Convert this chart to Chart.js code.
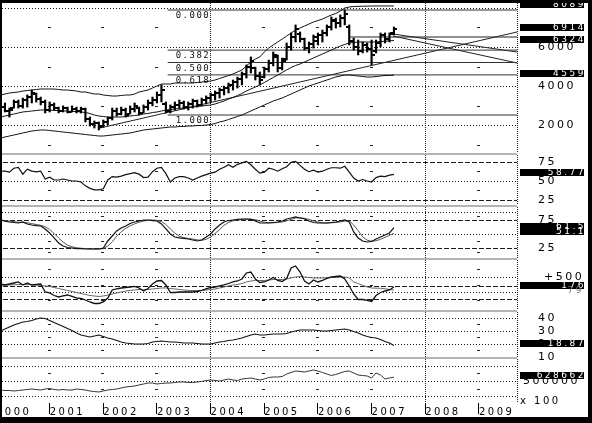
<!DOCTYPE html>
<html>
<head>
<meta charset="utf-8">
<script src="https://cdn.jsdelivr.net/npm/chart.js@4.4.1/dist/chart.umd.min.js"></script>
<style>
  html, body { margin: 0; padding: 0; background: #000; overflow: hidden; }
  body { width: 592px; height: 423px; position: relative; }
  #paper { position: absolute; left: 2px; top: 3px; width: 586px; height: 414px; background: #fff; }
  canvas { position: absolute; left: -4px; top: -30px; }
  .frame { position: absolute; background: #000; }
</style>
</head>
<body>
<div id="paper"></div>
<canvas id="p1" width="596" height="453"></canvas>
<canvas id="p2" width="596" height="453"></canvas>
<canvas id="p3" width="596" height="453"></canvas>
<canvas id="p4" width="596" height="453"></canvas>
<canvas id="p5" width="596" height="453"></canvas>
<canvas id="p6" width="596" height="453"></canvas>
<div class="frame" style="left:0;top:0;width:592px;height:3px"></div>
<div class="frame" style="left:0;top:0;width:2px;height:423px"></div>
<div class="frame" style="left:588px;top:0;width:4px;height:423px"></div>
<div class="frame" style="left:0;top:417px;width:592px;height:6px"></div>
<script>
// monthly bars, Jan 2000 .. Jun 2007
const monthX = Array.from({ length: 90 }, (_, i) => 2000 + i / 12);
const yearTicks = [2000, 2001, 2002, 2003, 2004, 2005, 2006, 2007, 2008, 2009];
const vLineYears = [2004, 2008];
const gridDotYears = [2001, 2002, 2003, 2005, 2006, 2007, 2009];
const xMin = 2000;
const xMax = 2009.71;

// price panel
const priceOpen = [2800, 3100, 2950, 2750, 2900, 3200, 3000, 3300, 3450, 3600,
  3350, 3200, 2800, 3050, 2900, 2750, 2900, 2700, 2850, 2750,
  2850, 2300, 2050, 2100, 1950, 2150, 2350, 2750, 2600, 2800,
  2600, 2850, 2900, 2650, 2950, 3150, 3300, 3550, 3100, 2750,
  2950, 3050, 3150, 2950, 3100, 3250, 3050, 3300, 3400, 3550,
  3650, 3800, 3900, 4050, 4200, 4350, 4600, 4950, 4900, 4500,
  4450, 4850, 5200, 5500, 4900, 5400, 6000, 6500, 6650, 6400,
  5950, 6150, 6300, 6600, 6700, 7000, 7300, 7200, 7500, 7000,
  6300, 6000, 5800, 6100, 5900, 5800, 6200, 6600, 6400, 6700];
const priceHigh = [3290, 3290, 3140, 2880, 3290, 3290, 3390, 3550, 3800, 3650,
  3440, 3290, 3190, 3140, 2930, 2990, 2930, 2990, 2930, 2930,
  2880, 2420, 2220, 2170, 2270, 2420, 2880, 2880, 2930, 2880,
  2990, 3140, 2930, 3040, 3290, 3440, 3700, 4060, 3190, 3040,
  3190, 3290, 3240, 3190, 3340, 3290, 3390, 3500, 3650, 3750,
  3900, 4000, 4160, 4310, 4460, 4720, 5080, 5490, 4970, 4720,
  4970, 5330, 5740, 5590, 5430, 6200, 6710, 7120, 6760, 6450,
  6250, 6610, 6710, 6860, 7120, 7530, 7470, 7630, 7883, 7120,
  6450, 6350, 6250, 6200, 6350, 6350, 6710, 6710, 6710, 7015];
const priceLow = [2680, 2680, 2680, 2420, 2880, 2880, 2880, 2930, 3140, 3190,
  3040, 2630, 2680, 2780, 2630, 2680, 2630, 2680, 2630, 2630,
  2170, 1960, 1860, 1760, 1910, 2020, 2270, 2470, 2530, 2420,
  2580, 2680, 2530, 2630, 2780, 2990, 3140, 3190, 2630, 2630,
  2780, 2880, 2830, 2780, 2880, 2930, 2990, 3090, 3190, 3290,
  3390, 3550, 3650, 3800, 3900, 4060, 4410, 4670, 4310, 4060,
  4410, 4720, 5030, 4720, 4820, 5330, 5840, 6250, 6250, 5840,
  5690, 5940, 6100, 6250, 6560, 6860, 6960, 7020, 7120, 6100,
  5840, 5590, 5690, 5740, 5080, 5690, 6000, 6200, 6250, 6610];
const priceClose = [3100, 2950, 2750, 2800, 3200, 3000, 3300, 3450, 3650, 3350,
  3200, 2800, 3050, 2900, 2750, 2900, 2700, 2850, 2750, 2850,
  2300, 2050, 2100, 1900, 2150, 2350, 2750, 2600, 2800, 2550,
  2850, 3000, 2650, 2950, 3150, 3300, 3550, 3800, 2750, 2950,
  3050, 3150, 2950, 3100, 3250, 3050, 3300, 3400, 3550, 3650,
  3800, 3900, 4050, 4200, 4350, 4600, 4950, 5300, 4500, 4300,
  4850, 5200, 5600, 4900, 5300, 6000, 6500, 6900, 6400, 5950,
  6150, 6500, 6600, 6700, 7000, 7350, 7200, 7500, 7700, 6300,
  6000, 5800, 6100, 5900, 5600, 6200, 6600, 6400, 6650, 6914];
const bandUpper = [3520, 3546, 3597, 3648, 3673, 3699, 3750, 3775, 3801, 3826,
  3852, 3852, 3852, 3852, 3826, 3801, 3801, 3775, 3750, 3699,
  3699, 3648, 3597, 3597, 3546, 3520, 3495, 3495, 3520, 3546,
  3546, 3597, 3699, 3750, 3801, 3903, 4005, 4107, 4107, 4107,
  4158, 4158, 4158, 4158, 4158, 4184, 4209, 4235, 4260, 4311,
  4388, 4464, 4541, 4617, 4719, 4821, 5026, 5230, 5383, 5485,
  5740, 5944, 6097, 6250, 6403, 6556, 6709, 6862, 6964, 7066,
  7168, 7270, 7347, 7423, 7525, 7627, 7704, 7832, 7985, 8036,
  8060, 8070, 8075, 8080, 8085, 8089, 8089, 8089, 8089, 8089];
const bandMiddle = [2398, 2423, 2474, 2525, 2576, 2628, 2679, 2704, 2730, 2755,
  2781, 2781, 2781, 2755, 2755, 2730, 2730, 2704, 2704, 2679,
  2653, 2602, 2525, 2474, 2449, 2423, 2423, 2423, 2423, 2449,
  2474, 2500, 2525, 2576, 2602, 2653, 2679, 2730, 2781, 2806,
  2832, 2857, 2883, 2908, 2934, 2959, 2985, 3010, 3036, 3087,
  3163, 3240, 3342, 3418, 3520, 3622, 3750, 3852, 3954, 4056,
  4184, 4311, 4439, 4566, 4694, 4821, 4949, 5051, 5128, 5230,
  5332, 5434, 5536, 5638, 5740, 5842, 5944, 6046, 6123, 6199,
  6224, 6250, 6250, 6250, 6250, 6250, 6270, 6290, 6310, 6324];
const bandLower = [1327, 1352, 1403, 1454, 1505, 1556, 1607, 1658, 1709, 1735,
  1760, 1760, 1735, 1709, 1684, 1658, 1633, 1607, 1582, 1556,
  1531, 1505, 1480, 1454, 1454, 1480, 1505, 1531, 1556, 1582,
  1607, 1658, 1709, 1760, 1786, 1811, 1837, 1862, 1888, 1913,
  1913, 1939, 1939, 1964, 1964, 1990, 1990, 2015, 2041, 2092,
  2168, 2219, 2296, 2372, 2449, 2525, 2628, 2730, 2832, 2934,
  3036, 3138, 3240, 3316, 3393, 3495, 3597, 3699, 3801, 3903,
  4005, 4082, 4158, 4235, 4311, 4388, 4464, 4515, 4566, 4566,
  4541, 4515, 4490, 4464, 4464, 4490, 4515, 4541, 4540, 4559];
const fibHigh = 7883;
const fibLow = 2525;
const fibStart = 2003.2;
const fibRatios = [0, 0.382, 0.5, 0.618, 1];
const trendLines = [
  [[2001.94, 1862], [2009.71, 6760]],
  [[2007.4, 6658], [2009.71, 5740]],
  [[2007.4, 6556], [2009.71, 5179]],
  [[2006.6, 6505], [2009.71, 6505]]
];
const priceTicks = [2000, 4000, 6000];
const priceLast = [8089, 6914, 6324, 4559];

// oscillator panels
const rsi = [62.9, 62.9, 62.9, 61.6, 66.8, 68, 59, 65.5, 63, 62,
  63, 52.6, 55, 51.3, 51.3, 52.6, 51.3, 50, 50, 48.7,
  43.6, 40.3, 38.4, 38.4, 39.7, 51.3, 55.8, 55, 56.4, 58.4,
  59.7, 61, 59, 54.5, 55, 62.2, 66.8, 68, 59.7, 48.7,
  53.9, 55.8, 55.8, 53.9, 51.3, 53.9, 56.4, 58.4, 60.3, 61.6,
  65.5, 68, 71.3, 68, 71.9, 73.8, 75.8, 71.3, 65.5, 60.3,
  61.6, 66.8, 65.5, 62.9, 66.1, 68.7, 74.5, 75.8, 70.6, 65.5,
  62.2, 64.2, 61.6, 62.9, 65.5, 67.4, 67.4, 66.8, 69.3, 61.6,
  53.9, 50, 51.9, 50, 48.7, 54.5, 56.4, 55.8, 57.7, 58.77];
const stochK = [78.6, 75, 73, 71.4, 70.5, 69.6, 71.4, 67.9, 66, 65,
  64.3, 59, 51.8, 42.9, 33.9, 28.6, 25.9, 25, 24, 24,
  23.2, 23.2, 23.2, 23.2, 25, 37.5, 46.4, 55.4, 60.7, 64.3,
  68.8, 71.4, 73.2, 75, 75, 74, 73.2, 67.9, 59, 50,
  44.6, 42.9, 42, 41, 39.3, 37.5, 39.3, 44.6, 50, 59,
  66, 71.4, 74, 75, 76, 76.8, 76.8, 76, 73.2, 69.6,
  69.6, 69.6, 70.5, 71.4, 73.2, 76.8, 78.6, 80.4, 78.6, 76.8,
  73.2, 70.5, 69.6, 69.6, 69.6, 70.5, 71.4, 73.2, 75, 71.4,
  53.6, 42.9, 37.5, 35.7, 36.6, 41, 44.6, 48.2, 51.8, 61.5];
const stochD = [76, 75, 74, 73, 72, 71, 70.5, 70, 68.5, 67,
  65.5, 63, 58, 51, 43, 35.5, 30, 27, 25.5, 24.5,
  24, 23.5, 23.2, 23.2, 23.8, 28.5, 36, 46, 54, 60,
  64.5, 68, 71, 73, 74.5, 75, 74.5, 72, 67, 59,
  51.5, 46, 43.5, 42, 41, 39.5, 38.7, 40.5, 44.5, 51,
  58, 65.5, 70.5, 73.5, 75, 76, 76.5, 76.5, 75.5, 73,
  71, 70, 70, 70.5, 71.5, 73.5, 76, 78.5, 79, 78,
  76, 73.5, 71.5, 70, 69.5, 70, 70.5, 71.5, 73, 73.5,
  66, 56, 45, 39, 37, 38, 40.5, 44, 47.5, 51.1];
const macd = [274, 274, 242, 274, 306, 339, 242, 306, 242, 258,
  274, 16, -16, -97, -145, -113, -81, -129, -177, -194,
  -242, -306, -355, -355, -306, -177, 81, 113, 145, 161,
  177, 194, 145, 48, 129, 274, 371, 387, 242, 0,
  0, 16, 16, 16, 16, 32, 65, 113, 161, 177,
  210, 242, 290, 339, 371, 436, 629, 661, 436, 323,
  339, 403, 484, 387, 355, 452, 790, 855, 661, 371,
  274, 403, 339, 387, 452, 500, 516, 532, 436, 210,
  -48, -226, -226, -258, -290, -97, 0, 48, 81, 176];
const macdSignal = [242, 242, 242, 242, 250, 258, 258, 258, 250, 242,
  226, 210, 194, 161, 129, 97, 65, 32, 0, -32,
  -65, -97, -113, -129, -113, -81, -48, -16, 16, 48,
  65, 81, 97, 97, 97, 113, 129, 145, 145, 129,
  113, 97, 81, 65, 65, 65, 65, 81, 97, 113,
  145, 177, 210, 242, 258, 290, 339, 371, 387, 387,
  387, 403, 419, 419, 419, 436, 468, 500, 516, 500,
  484, 468, 468, 468, 468, 484, 484, 500, 500, 468,
  339, 290, 230, 180, 145, 140, 135, 120, 100, 79];
const adx = [29.2, 30, 31.5, 33.1, 34.6, 35.8, 36.9, 37.3, 38.1, 39.2,
  40, 39.6, 38.1, 36.5, 35, 33.5, 31.9, 30.4, 28.5, 26.9,
  26.2, 25.4, 26.2, 26.9, 25.8, 24.6, 23.8, 22.7, 21.5, 20.8,
  20.4, 20, 20, 20, 20.4, 21.5, 21.9, 22.3, 21.9, 21.5,
  21.5, 21.2, 20.8, 20.8, 20.8, 20.4, 20, 20, 20, 20.8,
  21.5, 21.9, 22.7, 23.1, 23.8, 24.6, 25.8, 26.9, 27.7, 26.9,
  26.9, 27.3, 27.7, 27.7, 27.7, 28.1, 29.2, 30, 30.8, 30.8,
  30.8, 30.8, 30.4, 30, 30, 30.4, 30.8, 31.2, 31.5, 30.8,
  29.6, 28.5, 26.9, 25.8, 25, 24.6, 23.5, 21.9, 20.8, 18.87];
const obv = [200000, 200000, 183000, 183000, 167000, 183000, 200000, 217000, 233000, 217000,
  200000, 233000, 250000, 217000, 200000, 217000, 200000, 200000, 233000, 217000,
  200000, 167000, 150000, 133000, 167000, 200000, 217000, 233000, 267000, 300000,
  317000, 333000, 367000, 400000, 433000, 433000, 400000, 417000, 433000, 433000,
  450000, 467000, 467000, 450000, 450000, 467000, 483000, 517000, 533000, 517000,
  500000, 533000, 567000, 533000, 517000, 567000, 583000, 600000, 567000, 533000,
  567000, 617000, 633000, 633000, 650000, 733000, 783000, 833000, 817000, 800000,
  833000, 867000, 833000, 783000, 733000, 683000, 717000, 767000, 817000, 833000,
  767000, 700000, 683000, 667000, 600000, 767000, 700000, 567000, 600000, 628662];

// guide levels, grid dots and last-value boxes for each panel
const extras = {
  p1: { levels: [[2000, 'dot'], [4000, 'dot'], [6000, 'dot'], [8000, 'dot']], dots: [1000, 3000, 5000, 7000], boxes: priceLast, sep: true,
        fib: fibRatios.map(r => [fibHigh - r * (fibHigh - fibLow), r.toFixed(3)]) },
  p2: { levels: [[75, 'dash'], [50, 'dot'], [25, 'dash']], dots: [62.5, 37.5], boxes: [58.77], sep: true },
  p3: { levels: [[90, 'dot'], [75, 'dash'], [50, 'dot'], [25, 'dash']], dots: [83, 37.5, 17], boxes: [61.5, 51.1], sep: true },
  p4: { levels: [[500, 'dot'], [210, 'dash'], [0, 'dot'], [-210, 'dash']], dots: [750, 250, -250], boxes: [176], notes: [[79, '79']], sep: true },
  p5: { levels: [[40, 'dot'], [30, 'dot'], [20, 'dot']], dots: [35, 25, 15], boxes: [18.87], sep: true },
  p6: { levels: [[1000000, 'dot'], [500000, 'dot'], [0, 'dot']], dots: [750000, 250000], boxes: [628662], unit: 'x 100' }
};

const sketch = {
  id: 'sketch',
  beforeDraw(chart) { chart.ctx.letterSpacing = '2.5px'; },
  beforeDatasetsDraw(chart) {
    const o = extras[chart.canvas.id];
    const { ctx, chartArea: a, scales: { x, y } } = chart;
    ctx.save();
    ctx.lineWidth = 1;
    ctx.strokeStyle = '#1a1a1a';
    o.levels.forEach(([v, kind]) => {
      const py = Math.round(y.getPixelForValue(v)) + 0.5;
      ctx.setLineDash(kind === 'dash' ? [5, 2] : [1, 2]);
      ctx.beginPath(); ctx.moveTo(a.left, py); ctx.lineTo(a.right, py); ctx.stroke();
    });
    ctx.setLineDash([1, 1]);
    const rx = Math.round(a.right) + 0.5;
    ctx.beginPath(); ctx.moveTo(rx, a.top); ctx.lineTo(rx, a.bottom); ctx.stroke();
    ctx.fillStyle = '#222';
    gridDotYears.forEach(yr => o.dots.forEach(v => {
      ctx.fillRect(Math.round(x.getPixelForValue(yr)) - 2, Math.round(y.getPixelForValue(v)), 3, 1);
    }));
    ctx.restore();
  },
  afterDraw(chart) {
    const o = extras[chart.canvas.id];
    const { ctx, chartArea: a, scales: { x, y } } = chart;
    ctx.save();
    if (o.sep) {
      ctx.fillStyle = '#b4b4b4';
      ctx.fillRect(a.left, a.bottom, a.right - a.left, 2);
    }
    if (o.fib) {
      ctx.letterSpacing = '1.5px';
      ctx.font = '9px "DejaVu Sans Mono"';
      ctx.fillStyle = '#111';
      ctx.textAlign = 'left';
      ctx.textBaseline = 'top';
      const fx = x.getPixelForValue(fibStart) + 8;
      o.fib.forEach(([v, t]) => ctx.fillText(t, fx, Math.round(y.getPixelForValue(v)) + 1));
    }
    ctx.letterSpacing = '2.5px';
    ctx.font = '9px "DejaVu Sans"';
    ctx.textAlign = 'right';
    ctx.textBaseline = 'middle';
    const centers = o.boxes.map(v => Math.round(y.getPixelForValue(v)) - 2);
    ctx.fillStyle = '#000';
    centers.forEach(cy => ctx.fillRect(y.left + 3, cy - 3, 64, 7));
    ctx.fillStyle = '#fff';
    o.boxes.forEach((v, i) => ctx.fillText(String(v), y.left + 69, centers[i] + 0.5));
    (o.notes || []).forEach(([v, t]) => {
      ctx.fillStyle = '#777';
      ctx.fillText(t, y.left + 67, Math.round(y.getPixelForValue(v)) + 1);
    });
    if (o.unit) {
      ctx.fillStyle = '#000';
      ctx.font = '10px "DejaVu Sans"';
      ctx.textAlign = 'left';
      ctx.fillText(o.unit, y.left + 3, a.bottom - 2);
    }
    ctx.restore();
  }
};
Chart.register(sketch);

const pts = arr => arr.map((v, i) => ({ x: monthX[i], y: v }));
const series = (arr, color, width) => ({ type: 'line', data: pts(arr), borderColor: color, borderWidth: width, pointRadius: 0, tension: 0, fill: false });
const segment = (p, color) => ({ type: 'line', data: p.map(([x, y]) => ({ x, y })), borderColor: color, borderWidth: 1, pointRadius: 0, fill: false });

function tickImage(side) {
  const c = document.createElement('canvas');
  c.width = 7; c.height = 2;
  const g = c.getContext('2d');
  g.fillStyle = '#000';
  g.fillRect(side === 'left' ? 0 : 4, 0, 3, 2);
  return c;
}

function makePanel(id, band, range, ticks, datasets, opts) {
  const showYears = id === 'p6';
  const fmt = opts.fmt || (v => String(v));
  return new Chart(document.getElementById(id), {
    type: 'line',
    data: { datasets },
    options: {
      responsive: false,
      animation: false,
      events: [],
      layout: { autoPadding: false, padding: { left: 0, right: 11, top: band[0] + 30, bottom: 423 - band[1] - (showYears ? 20 : 0) } },
      plugins: { legend: { display: false }, tooltip: { enabled: false } },
      scales: {
        x: {
          type: 'linear', min: xMin, max: xMax, offset: false,
          afterBuildTicks: s => { s.ticks = yearTicks.map(v => ({ value: v })); },
          afterFit: s => { s.height = showYears ? 20 : 0; },
          grid: {
            color: c => (c.tick && vLineYears.includes(c.tick.value)) ? '#222' : 'rgba(0,0,0,0)',
            lineWidth: 1, offset: false, drawTicks: showYears, tickLength: 11, tickColor: '#000', tickWidth: 1
          },
          border: { display: false, dash: [1, 1] },
          ticks: {
            display: showYears, align: 'start', padding: -8, maxRotation: 0, autoSkip: false,
            font: { family: 'DejaVu Sans', size: 10 }, color: '#000', callback: v => String(v)
          }
        },
        y: {
          position: 'right', min: range[0], max: range[1],
          afterBuildTicks: s => { s.ticks = ticks.map(v => ({ value: v })); },
          afterFit: s => { s.width = 64; },
          grid: { display: true, drawOnChartArea: false, drawTicks: true, tickLength: opts.pad, tickColor: 'rgba(0,0,0,0)' },
          border: { display: false },
          ticks: {
            autoSkip: false, crossAlign: 'near', padding: 0,
            font: { family: 'DejaVu Sans', size: 11 }, color: '#000', callback: fmt
          }
        }
      }
    }
  });
}

const openTick = tickImage('left');
const closeTick = tickImage('right');

makePanel('p1', [3, 153], [587, 8240], priceTicks, [
  { type: 'bar', data: monthX.map((x, i) => ({ x, y: [priceLow[i], priceHigh[i]] })), backgroundColor: '#000', barThickness: 1.5, borderWidth: 0, grouped: false },
  { type: 'scatter', data: pts(priceOpen), pointStyle: openTick, pointRadius: 3, showLine: false },
  { type: 'scatter', data: pts(priceClose), pointStyle: closeTick, pointRadius: 3, showLine: false },
  series(bandUpper, '#111', 1),
  series(bandMiddle, '#111', 1),
  series(bandLower, '#111', 1),
  ...fibRatios.map(r => {
    const lvl = fibHigh - r * (fibHigh - fibLow);
    return segment([[fibStart, lvl], [xMax, lvl]], '#333');
  }),
  ...trendLines.map(t => segment(t, '#222'))
], { pad: 21 });

makePanel('p2', [155, 205], [18.4, 84.2], [25, 50, 75], [
  series(rsi, '#111', 1.2)
], { pad: 21 });

makePanel('p3', [207, 258], [7.1, 98.2], [25, 75], [
  series(stochK, '#111', 1.2),
  series(stochD, '#555', 1)
], { pad: 21 });

makePanel('p4', [260, 310], [-565, 1048], [500], [
  series(macd, '#111', 1.3),
  series(macdSignal, '#666', 1)
], { pad: 27, fmt: v => (v > 0 ? '+' : '') + v });

makePanel('p5', [312, 357], [10, 44.6], [10, 20, 30, 40], [
  series(adx, '#111', 1.1)
], { pad: 21 });

makePanel('p6', [359, 403], [-233333, 1233333], [500000], [
  series(obv, '#333', 1)
], { pad: 6 });
</script>
</body>
</html>
